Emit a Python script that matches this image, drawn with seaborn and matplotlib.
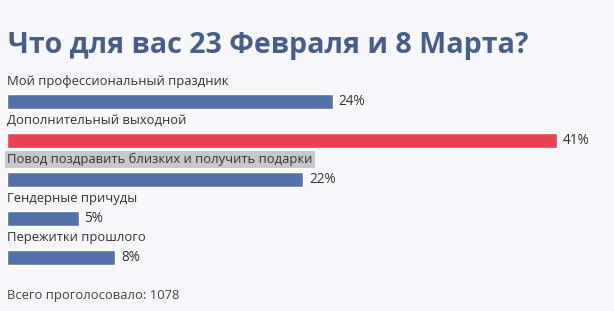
import matplotlib
matplotlib.use("Agg")
import matplotlib.pyplot as plt
import seaborn as sns
import pandas as pd

categories = [
    "Мой профессиональный праздник",
    "Дополнительный выходной",
    "Повод поздравить близких и получить подарки",
    "Гендерные причуды",
    "Пережитки прошлого",
]
values = [24.1, 40.7, 21.9, 5.3, 8.0]
value_labels = ["24%", "41%", "22%", "5%", "8%"]
bar_colors = ["#5571a9", "#e94257", "#5571a9", "#5571a9", "#5571a9"]
title = "Что для вас 23 Февраля и 8 Марта?"
footer = "Всего проголосовало: 1078"
highlighted = 2

sns.set_theme(style="white")
plt.rcParams["font.family"] = ["Open Sans", "DejaVu Sans"]

W, H = 614, 311
BG = "#f8f8fc"
fig = plt.figure(figsize=(W / 100, H / 100), dpi=100, facecolor=BG)

# axes in pixel layout: x 7..557 px maps to 0..max; rows 39 px apart
left_px, right_px = 7, 557
top_px, bot_px = 81.5, 277
ax = fig.add_axes([left_px / W, 1 - bot_px / H, (right_px - left_px) / W, (bot_px - top_px) / H])
ax.set_facecolor("none")

df = pd.DataFrame({"cat": categories, "val": values})
sns.barplot(data=df, y="cat", x="val", hue="cat", palette=bar_colors,
            orient="h", width=15 / 39, legend=False, ax=ax, saturation=1)
ax.set_xlim(0, max(values))
ax.set_ylim(len(categories) - 0.5, -0.5)
ax.axis("off")

text_color = "#333333"
px_per_unit_x = (right_px - left_px) / max(values)
for i, (c, v, lab) in enumerate(zip(categories, values, value_labels)):
    kw = {}
    if i == highlighted:
        kw["bbox"] = dict(boxstyle="square,pad=0.15", facecolor="#c9c9c9", edgecolor="none")
    ax.text(0.03, i - 0.51, c, ha="left", va="center", fontsize=9.35,
            color=text_color, clip_on=False, **kw)
    ax.text(v + 6 / px_per_unit_x, i, lab, ha="left", va="center", fontsize=9.8,
            color=text_color, clip_on=False)

fig.text(8 / W, 1 - 46 / H, title, ha="left", va="center", fontsize=20.6,
         fontweight="bold", color="#485e8a")
fig.text(7 / W, 1 - 296 / H, footer, ha="left", va="center", fontsize=9.35,
         color="#444444")

fig.savefig("out.png", dpi=100, facecolor=BG)
